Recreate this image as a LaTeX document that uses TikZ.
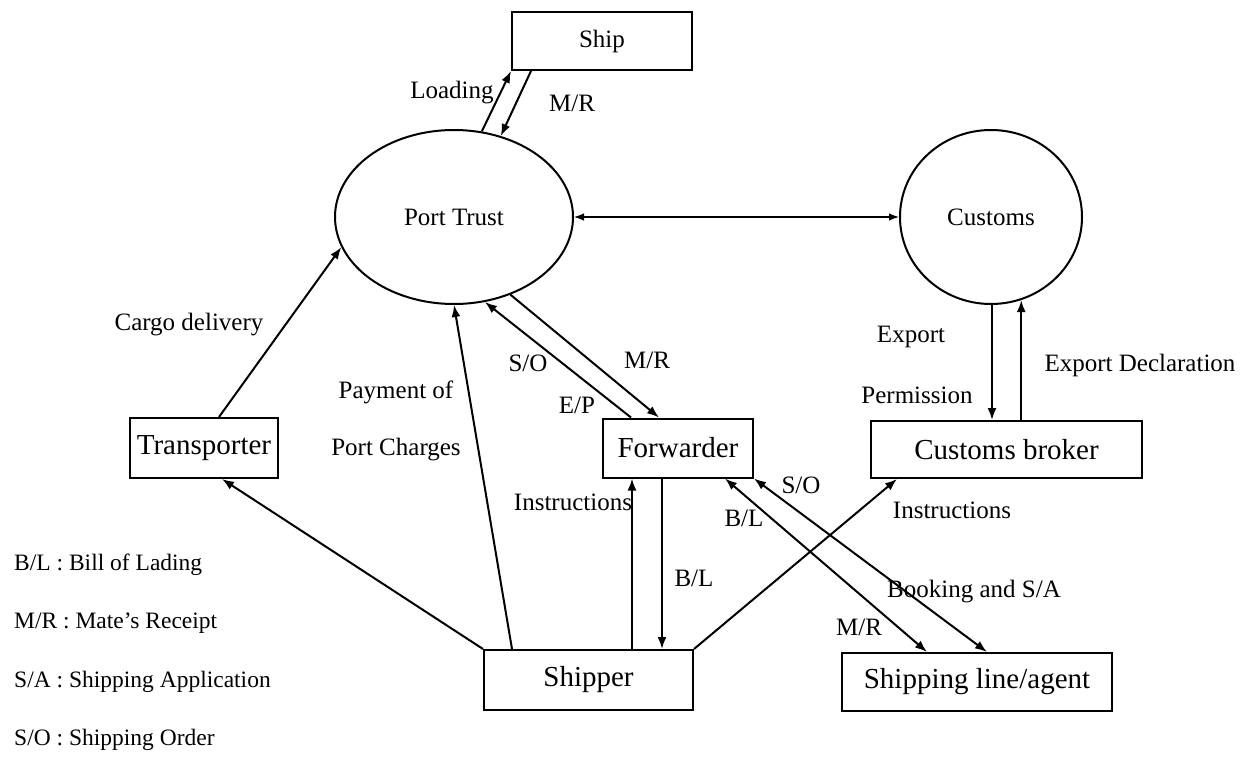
\documentclass[tikz,border=0pt]{standalone}
\usepackage{fontspec}
\setmainfont{Liberation Serif}
\usetikzlibrary{arrows.meta,calc,shapes.geometric}
\begin{document}
\begin{tikzpicture}[x=1bp,y=-1bp,
  nbox/.style={draw, line width=2bp, inner sep=0pt, font=\fontsize{29bp}{34bp}\selectfont},
  oval/.style={draw, ellipse, line width=2bp, inner sep=0pt, font=\fontsize{25bp}{30bp}\selectfont},
  lbl/.style={inner sep=0pt, font=\fontsize{25bp}{30bp}\selectfont},
  leg/.style={inner sep=0pt, anchor=west, font=\fontsize{23.5bp}{28bp}\selectfont},
  flow/.style={line width=2bp, -{Latex[length=12bp,width=9bp]}},
  twoway/.style={line width=2bp, {Latex[length=12bp,width=9bp]}-{Latex[length=12bp,width=9bp]}},
  thintwo/.style={line width=1.2bp, {Latex[length=10bp,width=7.5bp]}-{Latex[length=10bp,width=7.5bp]}}]
\useasboundingbox (0,0) rectangle (1256,760);
\fill[white] (0,0) rectangle (1256,760);

% nodes
\node[nbox, minimum width=180bp, minimum height=58bp, font=\fontsize{25bp}{30bp}\selectfont] (ship) at (602,41) {Ship};
\node[oval, minimum width=238bp, minimum height=174bp] (port) at (454,217) {Port Trust};
\node[oval, minimum width=182bp, minimum height=174bp] (customs) at (991,217) {Customs};
\node[nbox, minimum width=148bp, minimum height=60bp] (transp) at (204,448) {Transporter};
\node[nbox, minimum width=150bp, minimum height=59bp] (fwd) at (678,448) {Forwarder};
\node[nbox, minimum width=271bp, minimum height=57bp] (broker) at (1006.5,449.5) {Customs broker};
\node[nbox, minimum width=209bp, minimum height=60bp] (shipper) at (588.5,680) {Shipper};
\node[nbox, minimum width=270bp, minimum height=58bp] (shipline) at (977,682) {Shipping line/agent};

% helper coordinates
\coordinate (fI) at ($(fwd.south west)+(30,0)$);
\coordinate (fB) at ($(fwd.south west)+(60,0)$);

% connectors
\draw[flow] (port.72) -- (ship.south west);
\draw[flow] ($(ship.south west)+(20,0)$) -- (port.60);
\draw[flow] ($(transp.north)+(15,0)$) -- (port.195);
\draw[flow] ($(shipper.north west)+(29,0)$) -- (port.south);
\draw[flow] ($(fwd.north west)+(29,0)$) -- (port.290);
\draw[flow] (port.306) -- ($(fwd.north west)+(57,0)$);
\draw[thintwo] (port.east) -- (customs.west);
\draw[flow] ($(customs.south)+(1,0)$) -- ($(customs.south |- broker.north)+(1,0)$);
\draw[flow] (broker.north -| customs.290) -- (customs.290);
\draw[flow] (fI |- shipper.north) -- (fI);
\draw[flow] (fB) -- (fB |- shipper.north);
\draw[flow] (shipper.north west) -- ($(transp.south)+(18,0)$);
\draw[flow] (shipper.north east) -- ($(broker.south west)+(27,0)$);
\draw[twoway] ($(fwd.south east)+(-29,0)$) -- ($(shipline.north west)+(86,0)$);
\draw[twoway] (fwd.south east) -- ($(shipline.north west)+(146,0)$);

% labels
\node[lbl] (lLoad) at (452,93) {Loading};
\node[lbl] (lMR1) at (572,103) {M/R};
\node[lbl] (lCargo) at (189,325) {Cargo delivery};
\node[lbl] (lPay1) at (396,392) {Payment of};
\node[lbl] (lPay2) at (396,450) {Port Charges};
\node[lbl] (lSO1) at (528,363) {S/O};
\node[lbl] (lMR2) at (647,360) {M/R};
\node[lbl] (lEP) at (577,405) {E/P};
\node[lbl] (lExp1) at (911,337) {Export};
\node[lbl] (lExp2) at (917,395) {Permission};
\node[lbl] (lExpD) at (1140,365) {Export Declaration};
\node[lbl] (lIns1) at (573,502) {Instructions};
\node[lbl] (lBL1) at (694,578) {B/L};
\node[lbl] (lSO2) at (801,485) {S/O};
\node[lbl] (lBL2) at (744,518) {B/L};
\node[lbl] (lIns2) at (952,510) {Instructions};
\node[lbl] (lBook) at (974,592) {Booking and S/A};
\node[lbl] (lMR3) at (859,627) {M/R};

% legend
\node[leg] (g1) at (14,565) {B/L : Bill of Lading};
\node[leg] (g2) at (14,623) {M/R : Mate's Receipt};
\node[leg] (g3) at (14,682) {S/A : Shipping Application};
\node[leg] (g4) at (14,740) {S/O : Shipping Order};
\end{tikzpicture}
\end{document}
